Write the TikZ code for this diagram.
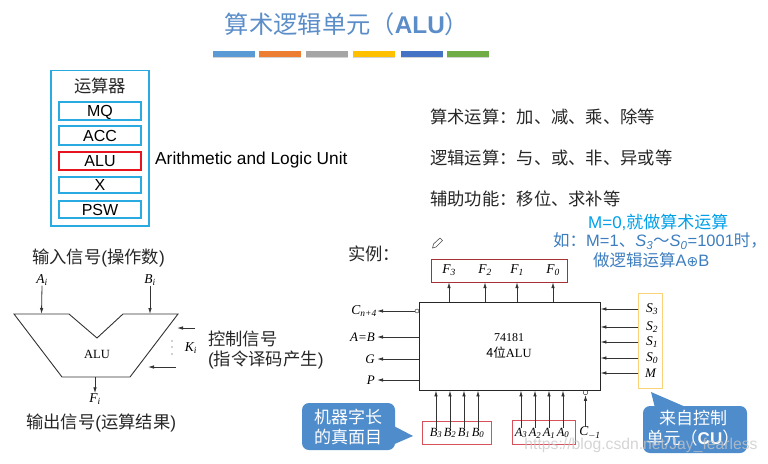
\documentclass[tikz,border=0pt]{standalone}
\usepackage{fontspec}
\setmainfont{Liberation Sans}
\newfontfamily\cjk{Noto Sans CJK SC}
\newfontfamily\serif{Liberation Serif}
\newfontfamily\sym{DejaVu Sans}
\usetikzlibrary{positioning,arrows.meta,calc,shadows}
\definecolor{TitleBlue}{RGB}{91,141,200}
\definecolor{BarBlue}{RGB}{91,155,213}
\definecolor{BarOrange}{RGB}{237,125,49}
\definecolor{BarGray}{RGB}{165,165,165}
\definecolor{BarGold}{RGB}{255,192,0}
\definecolor{BarNavy}{RGB}{68,114,196}
\definecolor{BarGreen}{RGB}{112,173,71}
\definecolor{BoxCyan}{RGB}{41,171,226}
\definecolor{AluRed}{RGB}{230,20,30}
\definecolor{NoteCyan}{RGB}{0,160,233}
\definecolor{NoteBlue}{RGB}{61,125,190}
\definecolor{TagBlue}{RGB}{79,140,203}
\definecolor{FrameRed}{RGB}{165,50,55}
\definecolor{PinkRed}{RGB}{215,80,90}
\definecolor{FrameGold}{RGB}{250,210,120}
\newcommand{\fs}[1]{\fontsize{#1}{#1}\selectfont}
\newcommand{\sig}[2]{{\serif\itshape #1\textsubscript{#2}}}
\tikzset{
    cell/.style={draw=BoxCyan,line width=1.3pt,minimum width=82pt,inner sep=0pt,font=\fs{16},text height=11pt,text depth=0pt},
    zh/.style={inner sep=0pt,font=\fs{17.3}\cjk,text=black!85},
    pin/.style={inner sep=0pt,font=\fs{13.5}},
    buspin/.style={inner sep=0pt,font=\fs{12.5}},
    pinname/.style={inner sep=0pt,font=\fs{13}\serif\itshape},
    note/.style={inner sep=0pt,anchor=west,font=\fs{16.5}\cjk},
    bar/.style={minimum width=42pt,minimum height=5.5pt,inner sep=0pt,drop shadow={shadow xshift=0.4pt,shadow yshift=-1pt,opacity=0.35}},
    wire/.style={-{Latex[length=6pt,width=3.5pt]},black!80,line width=0.8pt},
    tag/.style={rounded corners=7pt,fill=TagBlue},
    tagtext/.style={inner sep=0pt,text=white,align=center,font=\fs{17}\cjk},
}
\begin{document}
\begin{tikzpicture}[x=1pt,y=-1pt]
    \useasboundingbox (0,0) rectangle (768,463);
    % title
    \node[inner sep=0pt,text=TitleBlue,font=\fs{24.3}\cjk] (title) at (347,24) {算术逻辑单元（{\rmfamily\bfseries ALU}）};
    \node[bar,fill=BarBlue] (bar1) at (234,54) {};
    \node[bar,fill=BarOrange] (bar2) at (280,54) {};
    \node[bar,fill=BarGray] (bar3) at (327,54) {};
    \node[bar,fill=BarGold] (bar4) at (374,54) {};
    \node[bar,fill=BarNavy] (bar5) at (421.5,54) {};
    \node[bar,fill=BarGreen] (bar6) at (468,54) {};
    % register block
    \draw[BoxCyan,line width=1.4pt] (51,70.5) rectangle (149,226);
    \node[zh] (regs) at (100,86) {运算器};
    \node[cell,minimum height=18pt] (mq) at (100,111) {MQ};
    \node[cell,minimum height=19pt] (acc) at (100,135.5) {ACC};
    \node[cell,minimum height=18pt,draw=AluRed] (alureg) at (100,161) {ALU};
    \node[cell,minimum height=16pt] (x) at (100,185) {X};
    \node[cell,minimum height=17pt] (psw) at (100,209.5) {PSW};
    \node[inner sep=0pt,anchor=west,font=\fs{17.3}] (fullname) at (155,160.5) {Arithmetic and Logic Unit};
    % right text
    \node[zh,anchor=west] (arith) at (430,117) {算术运算：加、减、乘、除等};
    \node[zh,anchor=west] (logic) at (430,158) {逻辑运算：与、或、非、异或等};
    \node[zh,anchor=west] (aux) at (430,199) {辅助功能：移位、求补等};
    \node[note,text=NoteCyan,font=\fs{17}\cjk] (note1) at (588,222) {{\rmfamily M=0,}就做算术运算};
    \node[note,text=NoteBlue] (note2) at (553,241) {如：{\rmfamily M=1}、{\rmfamily\itshape S\textsubscript{3}}～{\rmfamily\itshape S\textsubscript{0}}{\rmfamily =1001}时，};
    \node[note,text=NoteBlue] (note3) at (593,260) {做逻辑运算{\rmfamily A{\sym\fs{14}⊕}B}};
    \node[zh,anchor=west] (example) at (348,254) {实例：};
    \draw[black!70,line width=0.6pt] (432.5,248) -- (433.5,244) -- (440,238) -- (442.5,240.5) -- (436,247) -- cycle;
    % simple ALU
    \node[zh,anchor=west] (inlabel) at (32,258) {输入信号{\rmfamily (}操作数{\rmfamily )}};
    \node[zh,anchor=west] (outlabel) at (26,423) {输出信号{\rmfamily (}运算结果{\rmfamily )}};
    \node[zh,anchor=west] (ctrl1) at (208,339) {控制信号};
    \node[zh,anchor=west] (ctrl2) at (208,360) {{\rmfamily (}指令译码产生{\rmfamily )}};
    \draw[black!80,line width=0.9pt] (14,314)--(69,314)--(97,338)--(123,314)--(178,314)--(130,377)--(62,377)--cycle;
    \node[inner sep=0pt,font=\fs{12.5}\serif] (alulabel) at (97,354) {ALU};
    \coordinate (aitop) at (41.5,314);
    \coordinate (bitop) at (150,314);
    \coordinate (fibot) at (95,377);
    \coordinate (k1) at (177,328);
    \coordinate (k2) at (148,367);
    \node[pin] (ai) at (42,280) {\sig{A}{i}};
    \node[pin] (bi) at (150,280) {\sig{B}{i}};
    \node[pin] (fi) at (95,399) {\sig{F}{i}};
    \node[pin] (ki) at (191,348) {\sig{K}{i}};
    \coordinate (k1start) at (195,328);
    \coordinate (k2start) at (176,367);
    \draw[wire] (ai.south) -- (aitop);
    \draw[wire] (bi.south) -- (bitop);
    \draw[wire] (fibot) -- (fi.north);
    \draw[wire] (k1start) -- (k1);
    \draw[wire] (k2start) -- (k2);
    \foreach \py in {341,347,354}{
        \fill[black!80] (172,\py) circle (0.7pt);
    }
    % 74181 chip
    \node[draw=black!85,line width=0.9pt,minimum width=181pt,minimum height=88pt,inner sep=0pt] (chip) at (509.5,346) {};
    \node[inner sep=0pt,font=\fs{12}\serif] (chipname) at (509,338) {74181};
    \node[inner sep=0pt,font=\fs{12.5}\cjk] (chiptype) at (509,353) {4位{\serif ALU}};
    % outputs on top
    \node[draw=FrameRed,minimum width=136pt,minimum height=23pt,inner sep=0pt] (fbox) at (499,270.5) {};
    \foreach \name/\i/\px in {f3/3/449,f2/2/485,f1/1/517,f0/0/553}{
        \node[pin] (\name) at (\px,270) {\sig{F}{\i}};
        \draw[wire] (chip.north -| \name) -- (fbox.south -| \name);
    }
    % outputs on the left
    \node[draw=black!85,circle,inner sep=0pt,minimum size=4pt] (cdot) at (417,311) {};
    \node[pin,anchor=east] (cn) at (377,311) {\sig{C}{n+4}};
    \draw[wire] (cdot) -- (cn);
    \node[pinname,anchor=east] (aeqb) at (375,337) {A=B};
    \node[pinname,anchor=east] (gout) at (375,359) {G};
    \node[pinname,anchor=east] (pout) at (375,380) {P};
    \foreach \name in {aeqb,gout,pout}{
        \draw[wire] (chip.west |- \name) -- ($(\name.east)+(2,0)$);
    }
    % function inputs on the right
    \node[draw=FrameGold,line width=1pt,minimum width=24pt,minimum height=95pt,inner sep=0pt] (sbox) at (650.5,340.5) {};
    \foreach \name/\i/\py in {s3/3/309,s2/2/327,s1/1/342,s0/0/358}{
        \node[pin,anchor=west] (\name) at (646,\py) {\sig{S}{\i}};
        \draw[wire] ($(\name.west)+(-8,0)$) -- (chip.east |- \name);
    }
    \node[pinname,anchor=west] (mpin) at (645,373) {M};
    \draw[wire] ($(mpin.west)+(-7,0)$) -- (chip.east |- mpin);
    % data inputs at the bottom
    \node[draw=PinkRed,minimum width=69pt,minimum height=23pt,inner sep=0pt] (bbox) at (456.5,432.5) {};
    \node[draw=PinkRed,minimum width=63pt,minimum height=24pt,inner sep=0pt] (abox) at (543.5,432) {};
    \foreach \name/\i/\px in {b3/3/436,b2/2/450,b1/1/464,b0/0/478}{
        \node[buspin] (\name) at (\px,433) {\sig{B}{\i}};
        \draw[wire] (\name.north) -- (chip.south -| \name);
    }
    \foreach \name/\i/\px in {a3/3/521,a2/2/535,a1/1/549,a0/0/563}{
        \node[buspin] (\name) at (\px,433) {\sig{A}{\i}};
        \draw[wire] (\name.north) -- (chip.south -| \name);
    }
    \node[pin] (cin) at (590,433) {\sig{C}{$-$1}};
    \node[draw=black!85,circle,inner sep=0pt,minimum size=4.5pt] (cindot) at (585.5,392.5) {};
    \draw[wire] (cin.north -| cindot) -- (cindot);
    % callouts
    \fill[tag] (302,403) rectangle (395,450);
    \fill[TagBlue] (390,424) -- (413,436) -- (390,446) -- cycle;
    \node[tagtext] (wordlen) at (348,427) {机器字长\\[3pt]的真面目};
    \fill[tag] (643,406) rectangle (747,453);
    \fill[TagBlue] (651,392) -- (688,408) -- (655,408) -- cycle;
    \node[tagtext] (fromcu) at (693,428) {来自控制\\[3pt]单元（{\rmfamily\bfseries CU}）};
    % watermark
    \node[inner sep=0pt,text=gray!45,opacity=0.75,font=\fs{15.7}] (mark) at (641,445.5) {https://blog.csdn.net/Jay\_fearless};
\end{tikzpicture}
\end{document}
